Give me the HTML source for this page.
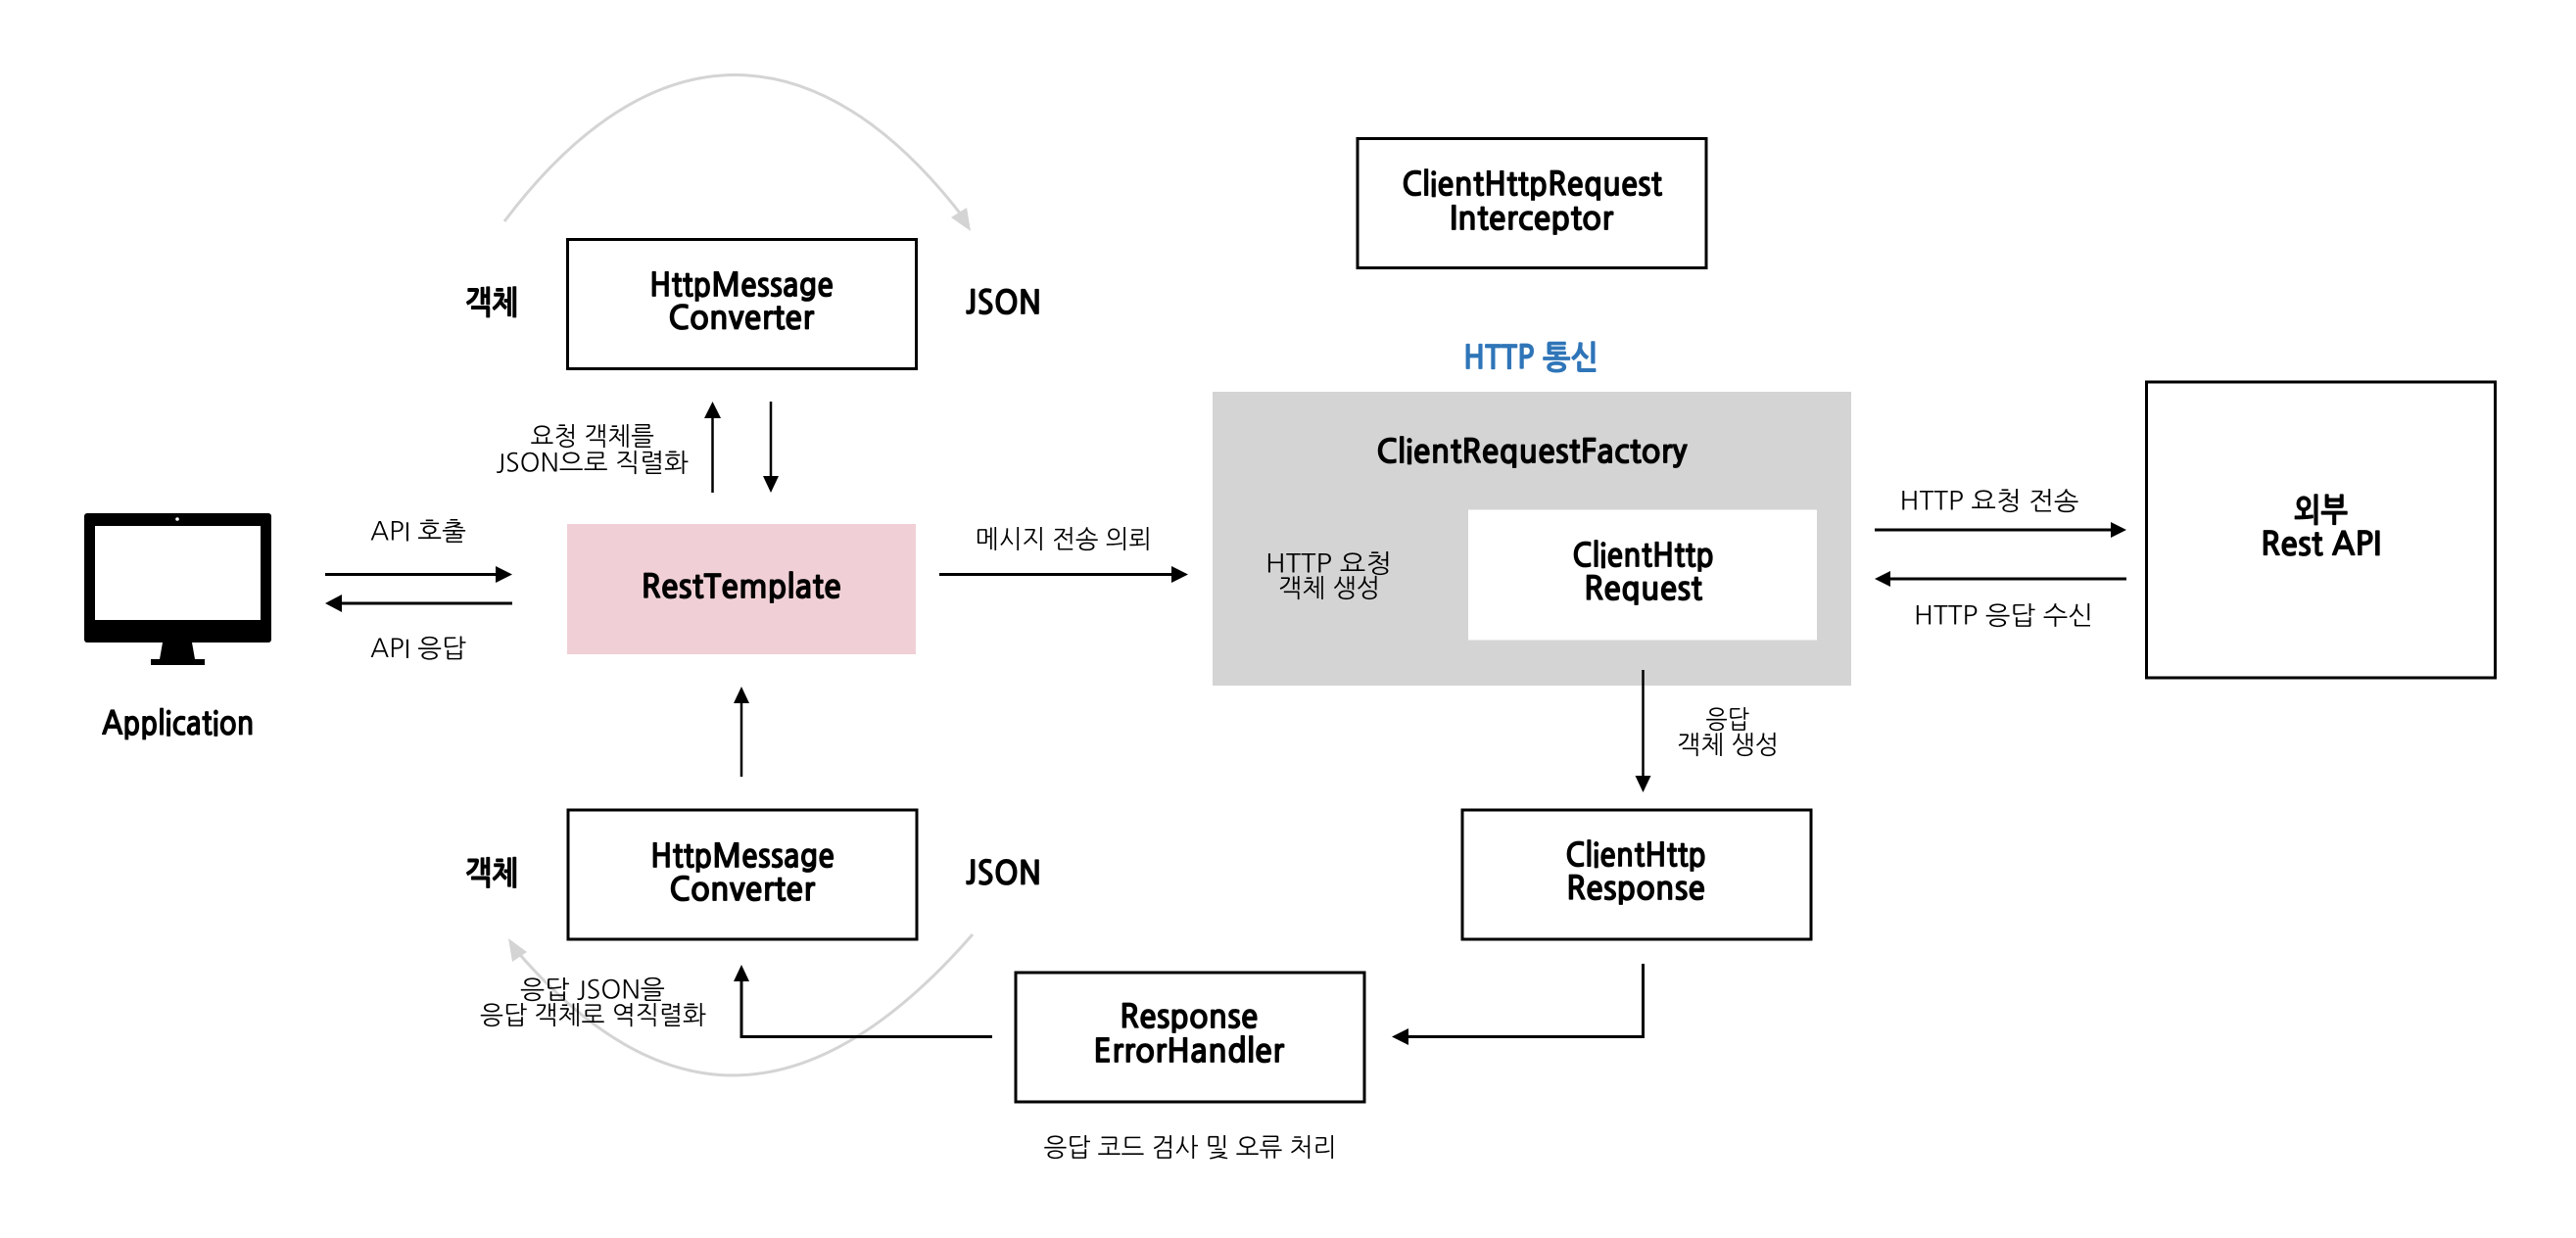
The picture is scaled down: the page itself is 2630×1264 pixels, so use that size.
<!DOCTYPE html>
<html lang="ko"><head><meta charset="utf-8"><title>RestTemplate</title>
<style>
html,body{margin:0;padding:0;background:#fff;width:2630px;height:1264px;overflow:hidden}
svg{display:block}
text{font-family:"NanumGothic","Liberation Sans","Noto Sans CJK KR",sans-serif;fill:#000}
.b{font-size:33px;font-weight:700;stroke:#000;stroke-width:.8px}
.r{font-size:26px}
</style></head><body>
<svg width="2630" height="1264" viewBox="0 0 2630 1264" xmlns="http://www.w3.org/2000/svg">
<rect width="2630" height="1264" fill="#fff"/>
<!-- gray curves -->
<path d="M515 226C665 27 835 27 985 224" fill="none" stroke="#d4d4d4" stroke-width="3"/>
<polygon points="991,236 971,222 987,212" fill="#d4d4d4"/>
<path d="M993 954C828 1143 675 1144 525 968" fill="none" stroke="#d4d4d4" stroke-width="3"/>
<polygon points="519,958 538,972 523,982" fill="#d4d4d4"/>
<!-- boxes -->
<g fill="#fff" stroke="#000" stroke-width="3">
<rect x="579.500" y="244.500" width="356" height="132"/>
<rect x="580" y="827" width="356" height="132"/>
<rect x="1386" y="141.500" width="356" height="132"/>
<rect x="2191.500" y="390" width="356" height="302"/>
<rect x="1493" y="827" width="356" height="132"/>
<rect x="1037" y="993" width="356" height="132"/>
</g>
<rect x="579" y="535" width="356" height="133" fill="#f0d0d6"/>
<rect x="1238" y="400" width="652" height="300" fill="#d4d4d4"/>
<rect x="1499" y="520.500" width="356" height="133" fill="#fff"/>
<!-- monitor -->
<rect x="86" y="524" width="191" height="132" rx="3" fill="#000"/>
<rect x="97" y="537" width="169" height="96" fill="#fff"/>
<circle cx="181" cy="530" r="1.800" fill="#fff"/>
<polygon points="166,656 196,656 199,673 163,673" fill="#000"/>
<rect x="154" y="673" width="55" height="6" fill="#000"/>
<!-- connectors -->
<g fill="none" stroke="#000">
<path d="M332 586.500H510M345 616H523M959 586.500H1200" stroke-width="3"/>
<path d="M1914 541H2158M1927 591H2171" stroke-width="3"/>
<path d="M727.500 503V425M787 410V488M757 793V716M1677.500 684V794" stroke-width="2.500"/>
<path d="M1013 1058.500H757V1000M1677.500 984V1058.500H1436" stroke-width="3"/>
</g>
<g fill="#000">
<polygon points="523,586.500 506,578 506,595"/>
<polygon points="332,616 349,607 349,625"/>
<polygon points="1213,586.500 1196,578 1196,595"/>
<polygon points="2171,541 2155,533 2155,549"/>
<polygon points="1914,591 1930,583 1930,599"/>
<polygon points="727.500,410 719,427 736,427"/>
<polygon points="787,503 779,486 795,486"/>
<polygon points="757,701 749,718 765,718"/>
<polygon points="757,985 749,1002 765,1002"/>
<polygon points="1677.500,809 1669.500,792 1685.500,792"/>
<polygon points="1421,1058.500 1438,1050 1438,1067"/>
</g>
<!-- bold labels -->
<g transform="translate(0,.5)">
<text class="b" x="475" y="320" textLength="54" lengthAdjust="spacingAndGlyphs">객체</text>
<text class="b" x="986" y="320" textLength="77" lengthAdjust="spacingAndGlyphs">JSON</text>
<text class="b" x="663" y="302" textLength="188" lengthAdjust="spacingAndGlyphs">HttpMessage</text>
<text class="b" x="682" y="335.500" textLength="149" lengthAdjust="spacingAndGlyphs">Converter</text>
<text class="b" x="654.500" y="610" textLength="204.500" lengthAdjust="spacingAndGlyphs">RestTemplate</text>
<text class="b" x="104" y="749.500" textLength="155.500" lengthAdjust="spacingAndGlyphs">Application</text>
<text class="b" x="475" y="902.500" textLength="54" lengthAdjust="spacingAndGlyphs">객체</text>
<text class="b" x="986" y="902.500" textLength="77" lengthAdjust="spacingAndGlyphs">JSON</text>
<text class="b" x="664" y="885" textLength="188" lengthAdjust="spacingAndGlyphs">HttpMessage</text>
<text class="b" x="683" y="919" textLength="149" lengthAdjust="spacingAndGlyphs">Converter</text>
<text class="b" x="1431" y="199" textLength="266" lengthAdjust="spacingAndGlyphs">ClientHttpRequest</text>
<text class="b" x="1480" y="234" textLength="167" lengthAdjust="spacingAndGlyphs">Interceptor</text>
<text class="b" x="1494" y="376" textLength="138" lengthAdjust="spacingAndGlyphs" style="fill:#2f75b8;stroke:#2f75b8">HTTP 통신</text>
<text class="b" x="1405" y="472" textLength="317.500" lengthAdjust="spacingAndGlyphs">ClientRequestFactory</text>
<text class="b" x="1605" y="578" textLength="145" lengthAdjust="spacingAndGlyphs">ClientHttp</text>
<text class="b" x="1617" y="612" textLength="121" lengthAdjust="spacingAndGlyphs">Request</text>
<text class="b" x="2342" y="532" textLength="55" lengthAdjust="spacingAndGlyphs">외부</text>
<text class="b" x="2308" y="566.500" textLength="123" lengthAdjust="spacingAndGlyphs">Rest API</text>
<text class="b" x="1598" y="884" textLength="144" lengthAdjust="spacingAndGlyphs">ClientHttp</text>
<text class="b" x="1599" y="918" textLength="142" lengthAdjust="spacingAndGlyphs">Response</text>
<text class="b" x="1143" y="1049" textLength="141.500" lengthAdjust="spacingAndGlyphs">Response</text>
<text class="b" x="1116" y="1084" textLength="195" lengthAdjust="spacingAndGlyphs">ErrorHandler</text>
</g>
<!-- regular labels -->
<g transform="translate(0,.7)">
<text class="r" x="541.500" y="454" textLength="126.500" lengthAdjust="spacingAndGlyphs">요청 객체를</text>
<text class="r" x="506.500" y="481" textLength="196.500" lengthAdjust="spacingAndGlyphs">JSON으로 직렬화</text>
<text class="r" x="378" y="551" textLength="98" lengthAdjust="spacingAndGlyphs">API 호출</text>
<text class="r" x="378" y="670.500" textLength="98" lengthAdjust="spacingAndGlyphs">API 응답</text>
<text class="r" x="531" y="1019" textLength="148" lengthAdjust="spacingAndGlyphs">응답 JSON을</text>
<text class="r" x="490" y="1045" textLength="231" lengthAdjust="spacingAndGlyphs">응답 객체로 역직렬화</text>
<text class="r" x="996" y="559" textLength="180" lengthAdjust="spacingAndGlyphs">메시지 전송 의뢰</text>
<text class="r" x="1292" y="584" textLength="129" lengthAdjust="spacingAndGlyphs">HTTP 요청</text>
<text class="r" x="1305" y="609" textLength="104" lengthAdjust="spacingAndGlyphs">객체 생성</text>
<text class="r" x="1939.500" y="520" textLength="183" lengthAdjust="spacingAndGlyphs">HTTP 요청 전송</text>
<text class="r" x="1954" y="637" textLength="183" lengthAdjust="spacingAndGlyphs">HTTP 응답 수신</text>
<text class="r" x="1741.500" y="743" textLength="44.500" lengthAdjust="spacingAndGlyphs">응답</text>
<text class="r" x="1712" y="769" textLength="104" lengthAdjust="spacingAndGlyphs">객체 생성</text>
<text class="r" x="1065.500" y="1180" textLength="299" lengthAdjust="spacingAndGlyphs">응답 코드 검사 및 오류 처리</text>
</g>
</svg>
</body></html>
